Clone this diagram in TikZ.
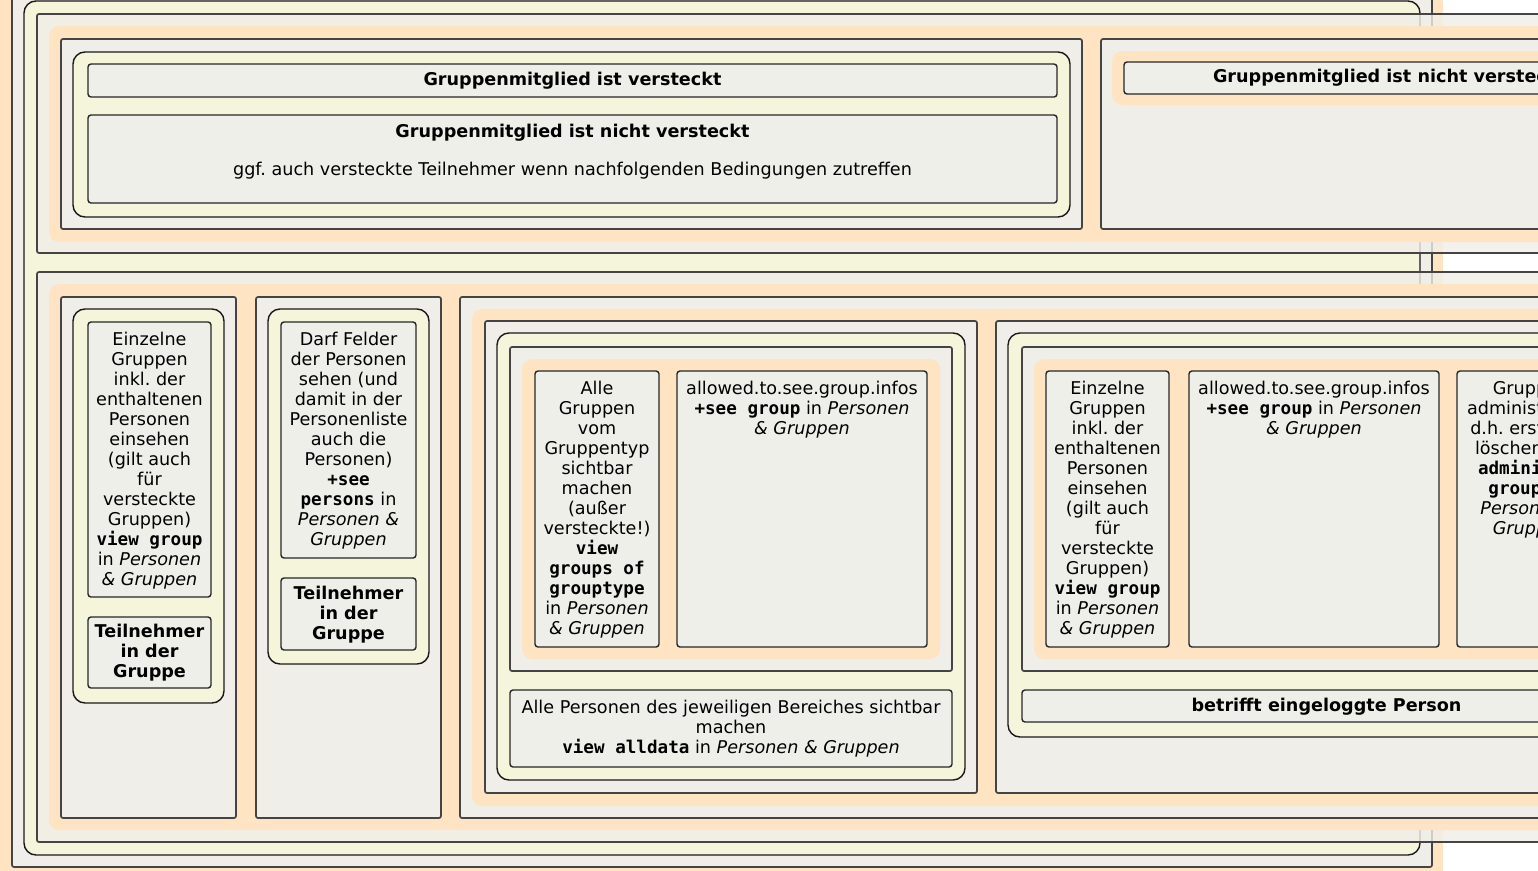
\documentclass[tikz,border=0pt]{standalone}
\usepackage{fontspec}
\setmainfont{DejaVu Sans}
\setmonofont{DejaVu Sans Mono}
\frenchspacing
\definecolor{cor}{HTML}{FFE4C4}
\definecolor{cgr}{HTML}{F0EEE8}
\definecolor{cye}{HTML}{F5F5DC}
\definecolor{ctx}{HTML}{EFEFEA}
\definecolor{cln}{HTML}{444444}
\newcommand\fs{\fontsize{17.6}{20}\selectfont\frenchspacing}
\newcommand\tl[1]{\begin{tabular}{@{}c@{}}#1\end{tabular}}
\newcommand\mb[1]{\texttt{\bfseries #1}}
\tikzset{
 orreg/.style={fill=cor, rounded corners=10pt},
 grbox/.style={fill=cgr, draw=cln, line width=1.7pt, rounded corners=2pt},
 tgrbox/.style={grbox, fill opacity=0.8},
 yebox/.style={fill=cye, draw=black!90, line width=1.4pt, rounded corners=12pt},
 txbox/.style={fill=ctx, draw=black!85, line width=1.4pt, rounded corners=3pt},
 lbl/.style={inner sep=0pt, font=\fs},
 lbltop/.style={lbl, anchor=north},
}
\begin{document}
\begin{tikzpicture}[x=1pt,y=-1pt]
\useasboundingbox (0,0) rectangle (1538,870);
\clip (0,0) rectangle (1538,870);
\fill[white] (0,0) rectangle (1538,870);
% outer layers
\fill[cor] (0,-20) rectangle (1443,890);
\draw[grbox] (12,-20) rectangle (1432,867);
\draw[yebox] (24,1) rectangle (1420,855);
% top part
\draw[tgrbox] (37,14) rectangle (1705,253);
\fill[orreg] (49,26) rectangle (1692,242);
\draw[grbox] (61,39) rectangle (1082,229);
\draw[yebox] (73,52) rectangle (1070,217);
\draw[txbox] (88,64) rectangle (1057,97);
\draw[txbox] (88,115) rectangle (1057,203);
\draw[grbox] (1101,39) rectangle (1680,229);
\fill[orreg] (1112,51) rectangle (1668,105);
\draw[txbox] (1124,62) rectangle (1656,94);
\node[lbl] (hidden) at (572.5,81.2) {\tl{\textbf{Gruppenmitglied ist versteckt}}};
\node[lbltop] (nothidden) at (572.5,122.8) {\tl{\textbf{Gruppenmitglied ist nicht versteckt}\\[18pt] ggf. auch versteckte Teilnehmer wenn nachfolgenden Bedingungen zutreffen}};
\node[lbl] (nothidden2) at (1390,78.8) {\tl{\textbf{Gruppenmitglied ist nicht versteckt}}};
% bottom part
\draw[tgrbox] (37,272) rectangle (1720,842);
\fill[orreg] (49,284) rectangle (1708,830);
% column 1
\draw[grbox] (61,297) rectangle (236,818);
\draw[yebox] (73,309) rectangle (224,703);
\draw[txbox] (88,322) rectangle (211,597);
\draw[txbox] (88,617) rectangle (211,688);
\node[lbltop] (c1a) at (149.5,331) {\tl{Einzelne\\ Gruppen\\ inkl. der\\ enthaltenen\\ Personen\\ einsehen\\ (gilt auch\\ für\\ versteckte\\ Gruppen)\\ \mb{view group}\\ in \textit{Personen}\\ \textit{\& Gruppen}}};
\node[lbl] (c1b) at (149.5,653.5) {\tl{\textbf{Teilnehmer}\\ \textbf{in der}\\ \textbf{Gruppe}}};
% column 2
\draw[grbox] (256,297) rectangle (441,818);
\draw[yebox] (268,309) rectangle (429,664);
\draw[txbox] (281,322) rectangle (416,558);
\draw[txbox] (281,578) rectangle (416,650);
\node[lbltop] (c2a) at (348.5,331) {\tl{Darf Felder\\ der Personen\\ sehen (und\\ damit in der\\ Personenliste\\ auch die\\ Personen)\\ \mb{+see}\\ \mb{persons} in\\ \textit{Personen \&}\\ \textit{Gruppen}}};
\node[lbl] (c2b) at (348.5,615) {\tl{\textbf{Teilnehmer}\\ \textbf{in der}\\ \textbf{Gruppe}}};
% column 3
\draw[grbox] (460,297) rectangle (1696,818);
\fill[orreg] (472,309) rectangle (1684,806);
\draw[grbox] (485,321) rectangle (977,793);
\draw[yebox] (497,333) rectangle (965,780);
\draw[grbox] (510,347) rectangle (952,671);
\fill[orreg] (522,359) rectangle (940,659);
\draw[txbox] (535,371) rectangle (659,647);
\draw[txbox] (677,371) rectangle (927,647);
\draw[txbox] (510,690) rectangle (952,767);
\node[lbltop] (c3a) at (597,380) {\tl{Alle\\ Gruppen\\ vom\\ Gruppentyp\\ sichtbar\\ machen\\ (außer\\ versteckte!)\\ \mb{view}\\ \mb{groups of}\\ \mb{grouptype}\\ in \textit{Personen}\\ \textit{\& Gruppen}}};
\node[lbltop] (c3b) at (802,380) {\tl{allowed.to.see.group.infos\\ \mb{+see group} in \textit{Personen}\\ \textit{\& Gruppen}}};
\node[lbl] (c3c) at (731,729.5) {\tl{Alle Personen des jeweiligen Bereiches sichtbar\\ machen\\ \mb{view alldata} in \textit{Personen \& Gruppen}}};
% column 4
\draw[grbox] (996,321) rectangle (1670,793);
\draw[yebox] (1008,333) rectangle (1645,737);
\draw[grbox] (1022,347) rectangle (1631,671);
\fill[orreg] (1034,359) rectangle (1619,659);
\draw[txbox] (1046,371) rectangle (1169,647);
\draw[txbox] (1189,371) rectangle (1439,647);
\draw[txbox] (1457,371) rectangle (1605,647);
\draw[txbox] (1022,690) rectangle (1631,722);
\node[lbltop] (c4a) at (1107.5,380) {\tl{Einzelne\\ Gruppen\\ inkl. der\\ enthaltenen\\ Personen\\ einsehen\\ (gilt auch\\ für\\ versteckte\\ Gruppen)\\ \mb{view group}\\ in \textit{Personen}\\ \textit{\& Gruppen}}};
\node[lbltop] (c4b) at (1314,380) {\tl{allowed.to.see.group.infos\\ \mb{+see group} in \textit{Personen}\\ \textit{\& Gruppen}}};
\node[lbltop] (c4c) at (1531,380) {\tl{Gruppen\\ administrieren\\ d.h. erstellen,\\ löschen usw.\\ \mb{administer}\\ \mb{groups} in\\ \textit{Personen \&}\\ \textit{Gruppen}}};
\node[lbl] (c4d) at (1326.5,707) {\tl{\textbf{betrifft eingeloggte Person}}};
\end{tikzpicture}
\end{document}
